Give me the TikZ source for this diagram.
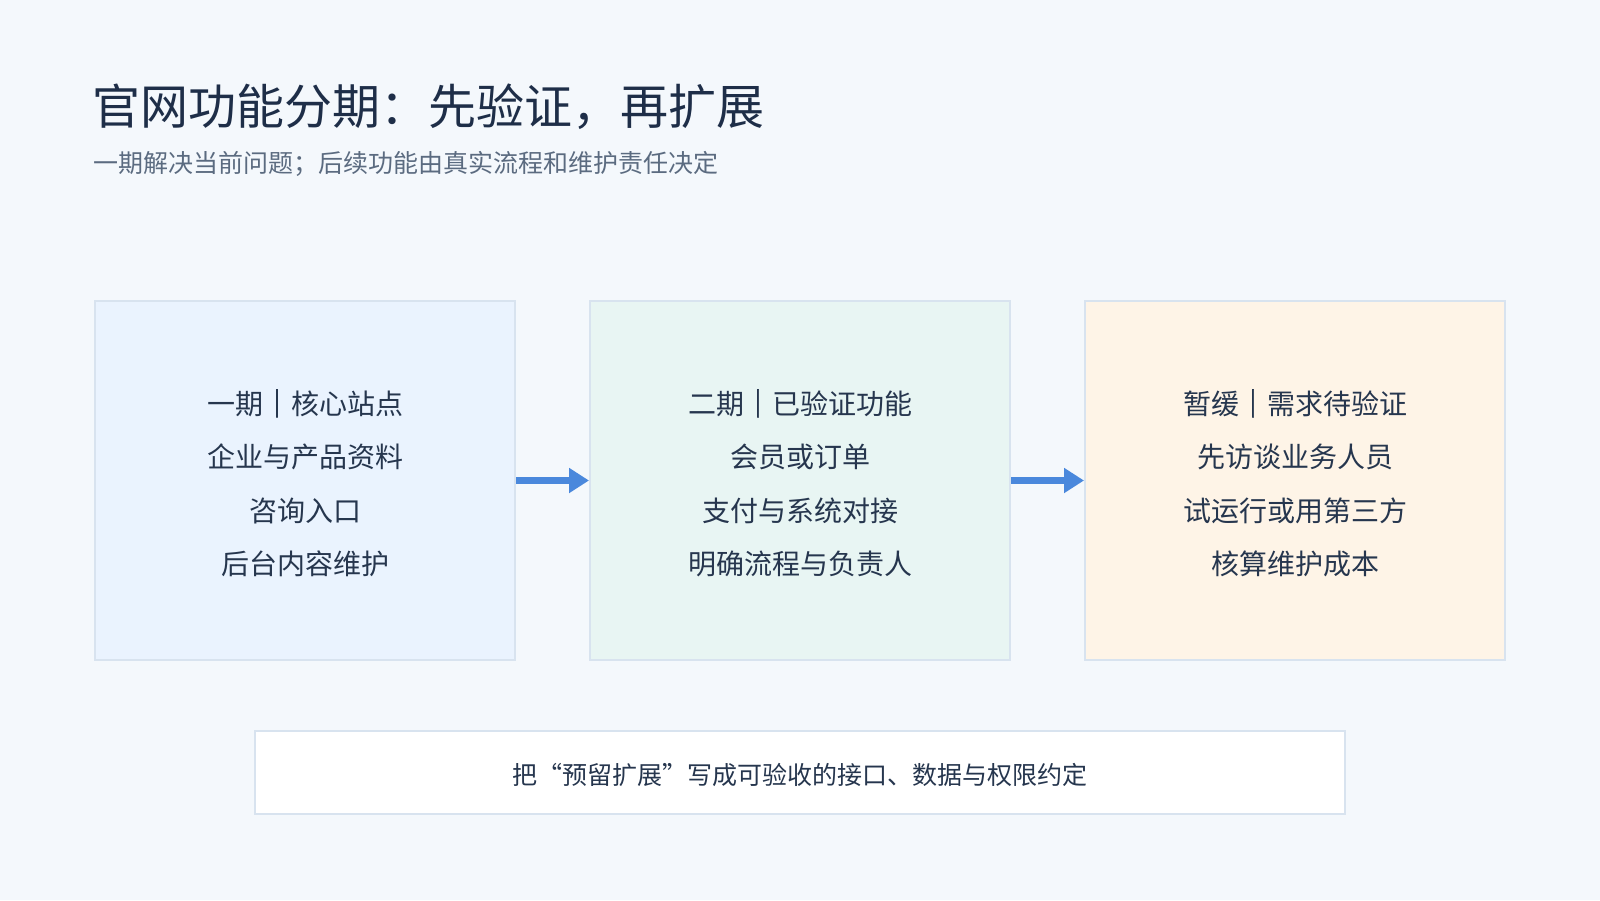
\documentclass[tikz,border=0pt]{standalone}
\usepackage{fontspec}
\setmainfont{Noto Sans CJK SC}
\newfontfamily\barfont{Noto Sans CJK SC}[FakeBold=2.5]
\newcommand{\sepbar}{{\barfont ｜}}
\usetikzlibrary{arrows.meta}
\definecolor{bg}{HTML}{F4F8FC}
\definecolor{titlec}{HTML}{1E2E48}
\definecolor{subc}{HTML}{5B6B80}
\definecolor{textc}{HTML}{26364E}
\definecolor{fillA}{HTML}{EAF3FE}
\definecolor{fillB}{HTML}{E8F5F3}
\definecolor{fillC}{HTML}{FEF4E7}
\definecolor{edgec}{HTML}{D8E3EF}
\definecolor{arrowc}{HTML}{4A88DC}
\tikzset{
  phase/.style={draw=edgec, line width=2pt, minimum width=420pt, minimum height=359pt, inner sep=0pt},
  ln/.style={anchor=base, inner sep=0pt, text=textc, font=\fontsize{28}{28}\selectfont},
  flow/.style={draw=arrowc, line width=7.5pt, -{Triangle[length=20pt,width=24pt]}},
}
\begin{document}
\begin{tikzpicture}[x=1pt,y=-1pt]
\fill[bg] (0,0) rectangle (1600,900);
\useasboundingbox (0,0) rectangle (1600,900);
\node[anchor=base west, inner sep=0pt, text=titlec, font=\fontsize{48}{48}\selectfont] (title) at (92,124) {官网功能分期：先验证，再扩展};
\node[anchor=base west, inner sep=0pt, text=subc, font=\fontsize{25}{25}\selectfont] (sub) at (93,172.5) {一期解决当前问题；后续功能由真实流程和维护责任决定};

\node[phase, fill=fillA] (b1) at (305,480.5) {};
\node[phase, fill=fillB] (b2) at (800,480.5) {};
\node[phase, fill=fillC] (b3) at (1295,480.5) {};

\node[ln] (a1) at (305,414) {一期\sepbar 核心站点};
\node[ln] (a2) at (305,467.5) {企业与产品资料};
\node[ln] (a3) at (305,521) {咨询入口};
\node[ln] (a4) at (305,574.5) {后台内容维护};

\node[ln] (c1) at (800,414) {二期\sepbar 已验证功能};
\node[ln] (c2) at (800,467.5) {会员或订单};
\node[ln] (c3) at (800,521) {支付与系统对接};
\node[ln] (c4) at (800,574.5) {明确流程与负责人};

\node[ln] (d1) at (1295,414) {暂缓\sepbar 需求待验证};
\node[ln] (d2) at (1295,467.5) {先访谈业务人员};
\node[ln] (d3) at (1295,521) {试运行或用第三方};
\node[ln] (d4) at (1295,574.5) {核算维护成本};

\draw[flow] (b1.east) -- (b2.west);
\draw[flow] (b2.east) -- (b3.west);

\node[draw=edgec, line width=2pt, fill=white, minimum width=1090pt, minimum height=83pt, inner sep=0pt] (note) at (800,772.5) {};
\node[anchor=base, inner sep=0pt, text=textc, font=\fontsize{25}{25}\selectfont] (notetext) at (800,784) {把“预留扩展”写成可验收的接口、数据与权限约定};
\end{tikzpicture}
\end{document}
